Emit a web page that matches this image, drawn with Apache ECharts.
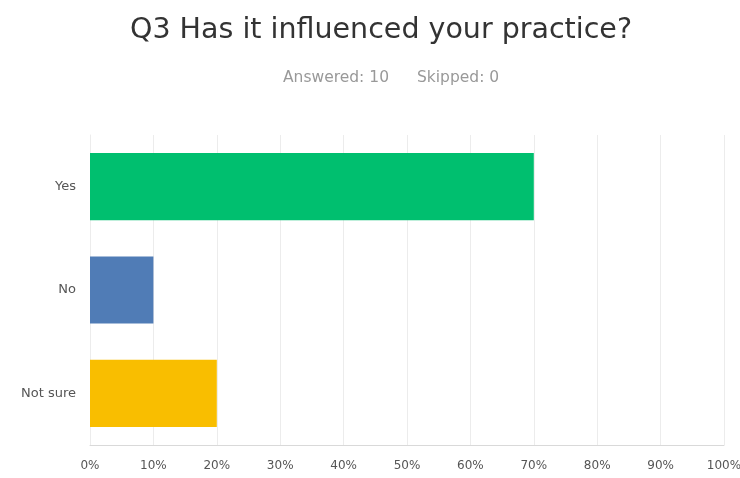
<!DOCTYPE html>
<html>
<head>
<meta charset="utf-8">
<script src="https://cdn.jsdelivr.net/npm/echarts@6/dist/echarts.min.js"></script>
<style>
  html, body { margin: 0; padding: 0; background: #ffffff; }
  #chart { width: 740px; height: 478px; }
</style>
</head>
<body>
<div id="chart"></div>
<script>
// Survey answer choices (top to bottom) and the share of respondents for each
const categories = ['Yes', 'No', 'Not sure'];
const percentages = [70, 10, 20];
const barColors = ['#00bf6f', '#507cb6', '#f9be00'];
const titleText = 'Q3 Has it influenced your practice?';
const answered = 10;
const skipped = 0;

const FONT = '"DejaVu Sans", "Liberation Sans", Arial, sans-serif';

const chart = echarts.init(document.getElementById('chart'), null, { renderer: 'canvas' });

chart.setOption({
  backgroundColor: '#ffffff',
  animation: false,
  title: [
    {
      text: titleText,
      left: 130,
      top: 16,
      padding: 0,
      textStyle: { fontFamily: FONT, fontSize: 28.5, fontWeight: 'normal', color: '#333333' }
    },
    {
      text: 'Answered: ' + answered,
      left: 283,
      top: 70,
      padding: 0,
      textStyle: { fontFamily: FONT, fontSize: 15.5, fontWeight: 'normal', color: '#999999' }
    },
    {
      text: 'Skipped: ' + skipped,
      left: 417,
      top: 70,
      padding: 0,
      textStyle: { fontFamily: FONT, fontSize: 15.5, fontWeight: 'normal', color: '#999999' }
    }
  ],
  grid: { left: 90, right: 16, top: 135, bottom: 33, containLabel: false, outerBoundsMode: 'none' },
  xAxis: {
    type: 'value',
    min: 0,
    max: 100,
    interval: 10,
    axisLine: { show: true, lineStyle: { color: '#d9d9d9', width: 1 } },
    axisTick: { show: false },
    splitLine: { show: true, lineStyle: { color: '#ececec', width: 1 } },
    axisLabel: {
      formatter: '{value}%',
      color: '#555555',
      fontSize: 12,
      fontFamily: FONT,
      margin: 15
    }
  },
  yAxis: {
    type: 'category',
    inverse: true,
    data: categories,
    axisLine: { show: true, lineStyle: { color: '#ececec' } },
    axisTick: { show: false },
    axisLabel: {
      color: '#555555',
      fontSize: 13,
      fontFamily: FONT,
      margin: 14
    }
  },
  series: [{
    type: 'bar',
    barWidth: '65%',
    data: percentages.map((v, i) => ({ value: v, itemStyle: { color: barColors[i] } }))
  }]
});
</script>
</body>
</html>
